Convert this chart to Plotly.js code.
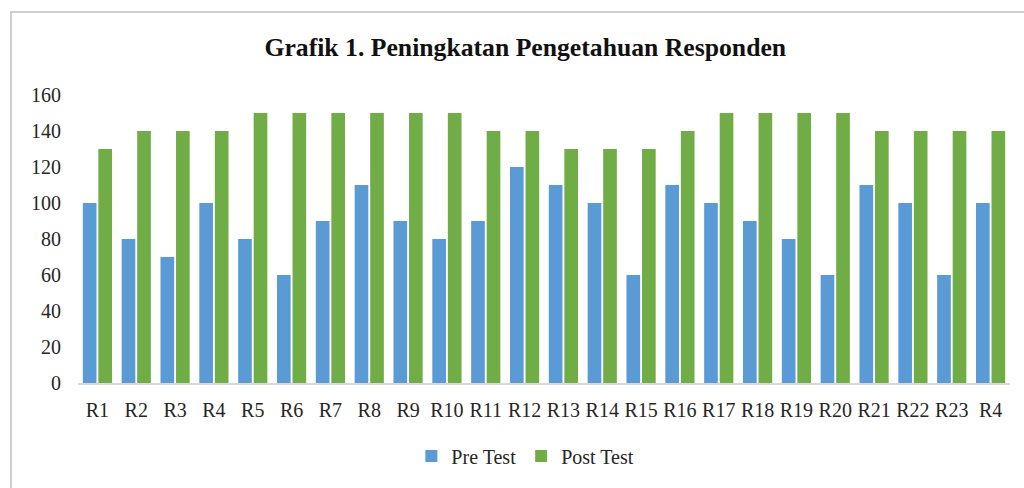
<!DOCTYPE html>
<html>
<head>
<meta charset="utf-8">
<script src="https://cdn.plot.ly/plotly-3.0.1.min.js"></script>
<style>
html,body{margin:0;padding:0;width:1024px;height:488px;overflow:hidden;background:#fff;}
#chart{position:absolute;left:0;top:0;width:1024px;height:488px;}
#frame{position:absolute;left:10px;top:11px;width:1100px;height:600px;border:2px solid #cfcfcf;box-sizing:border-box;pointer-events:none;}
</style>
</head>
<body>
<div id="chart"></div>
<div id="frame"></div>
<script>
const categories = ["R1","R2","R3","R4","R5","R6","R7","R8","R9","R10","R11","R12","R13","R14","R15","R16","R17","R18","R19","R20","R21","R22","R23","R4"];
const preTest  = [100,80,70,100,80,60,90,110,90,80,90,120,110,100,60,110,100,90,80,60,110,100,60,100];
const postTest = [130,140,140,140,150,150,150,150,150,150,140,140,130,130,130,140,150,150,150,150,140,140,140,140];
const yTicks = [0,20,40,60,80,100,120,140,160];

const idx = categories.map((c,i)=>i);
const font = {family:"Liberation Serif, Times New Roman, serif", size:20, color:"#262626"};

const traces = [
  {type:"bar", name:"Pre Test", x:idx, y:preTest, marker:{color:"#5B9BD5"}, hoverinfo:"none"},
  {type:"bar", name:"Post Test", x:idx, y:postTest, marker:{color:"#70AD47"}, hoverinfo:"none"}
];

const layout = {
  width:1024, height:488,
  margin:{l:78, r:14, t:95, b:101},
  paper_bgcolor:"rgba(0,0,0,0)", plot_bgcolor:"rgba(0,0,0,0)",
  font:font,
  title:{text:"<b>Grafik 1. Peningkatan Pengetahuan Responden</b>", font:{family:"Liberation Serif, Times New Roman, serif", size:25.7, color:"#111111"}, x:0.513, xref:"container", xanchor:"center", y:1-47/488, yref:"container", yanchor:"middle"},
  barmode:"group", bargap:0.2, bargroupgap:0.12,
  xaxis:{tickmode:"array", tickvals:idx, ticktext:categories, range:[-0.5, categories.length-0.5], showline:true, linecolor:"#d9d9d9", linewidth:1.5, showgrid:false, zeroline:false, ticks:"", ticklabelstandoff:8, tickfont:font, fixedrange:true},
  yaxis:{range:[0,160], tickmode:"array", tickvals:yTicks, showgrid:false, zeroline:false, showline:false, ticks:"", ticklabelstandoff:16, tickfont:font, fixedrange:true},
  showlegend:true,
  legend:{orientation:"h", x:0.48, xanchor:"center", y:-74/292, yanchor:"middle", font:font, itemwidth:30, traceorder:"normal"}
};

Plotly.newPlot("chart", traces, layout, {staticPlot:true, displayModeBar:false});
</script>
</body>
</html>
